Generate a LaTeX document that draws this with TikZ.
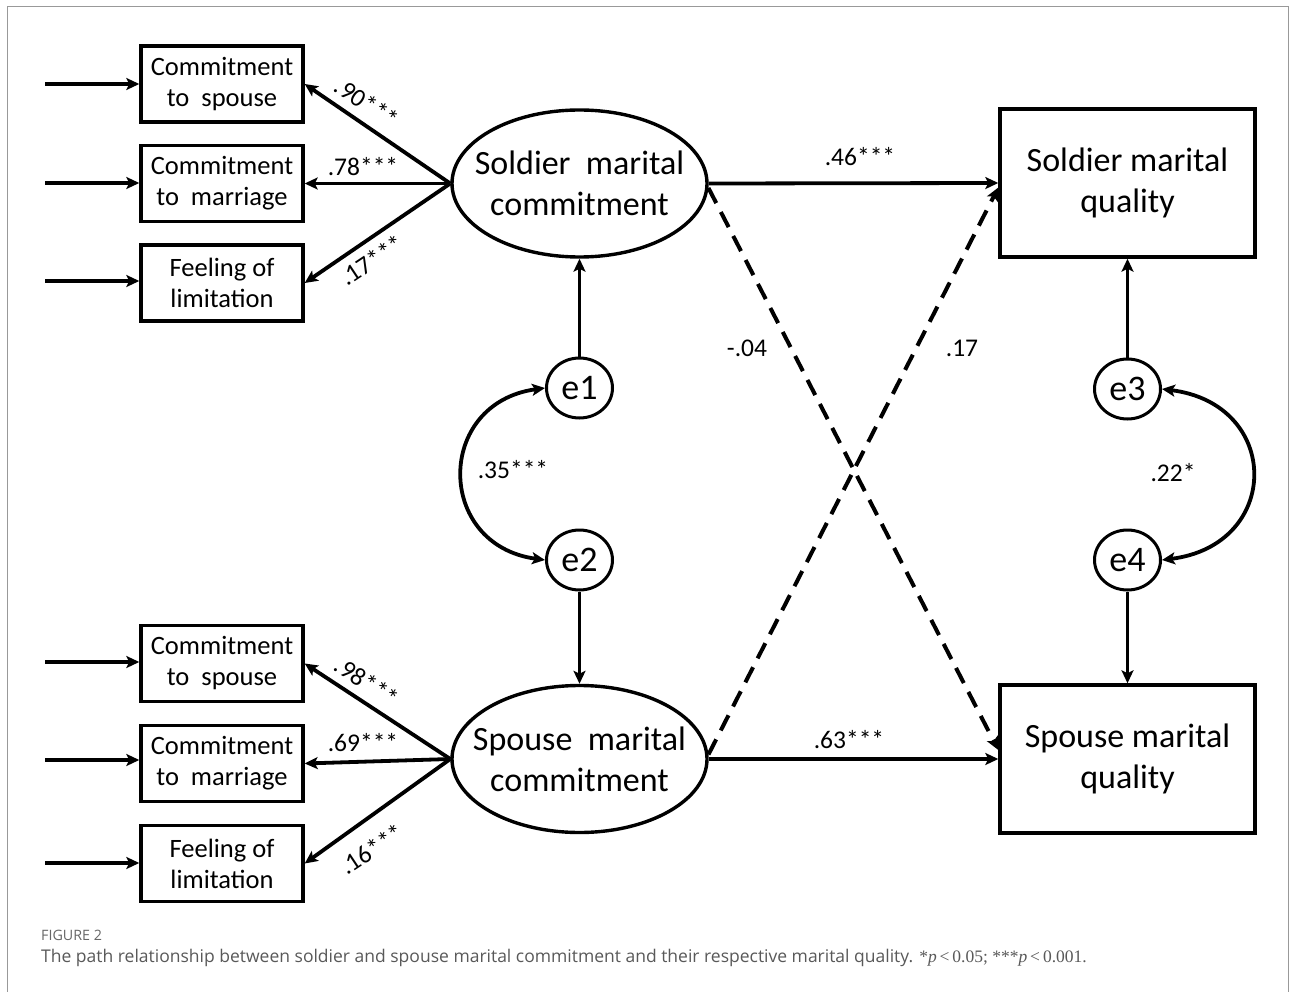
\documentclass[tikz,border=0pt]{standalone}
\usepackage{fontspec}
\setmainfont{Carlito}
\newfontfamily\capfont{Open Sans}
\newfontfamily\capserif{Liberation Serif}
\usetikzlibrary{arrows.meta,shapes.geometric,calc}
\begin{document}
\begin{tikzpicture}[x=1pt,y=-1pt,
  >={Stealth[length=13pt,width=12pt,inset=3pt]},
  ind/.style={draw, line width=3.4pt, minimum width=162pt, minimum height=76pt, inner sep=0pt, align=center, font=\fontsize{26.5}{31}\selectfont},
  lat/.style={ellipse, draw, line width=3.4pt, minimum width=255pt, minimum height=147pt, inner sep=0pt},
  lattext/.style={align=center, inner sep=0pt, font=\fontsize{34}{41}\selectfont},
  outc/.style={rectangle, draw, line width=3.4pt, minimum width=255pt, minimum height=148pt, inner sep=0pt, align=center, font=\fontsize{34}{41}\selectfont},
  err/.style={ellipse, draw, line width=3pt, minimum width=66pt, minimum height=60pt, inner sep=0pt, font=\fontsize{36}{40}\selectfont},
  pth/.style={line width=3.8pt, ->},
  dpth/.style={line width=4pt, ->, dash pattern=on 17pt off 10pt},
  coef/.style={font=\fontsize{25.5}{28}\selectfont, inner sep=0pt},
]
\useasboundingbox (0,0) rectangle (1293,992);
\fill[white] (0,0) rectangle (1293,992);
\draw[black!40, line width=1pt] (7,992) -- (7,7) -- (1288,7) -- (1288,992);

% indicator boxes
\node[ind] (b1) at (222,84) {Commitment\\to\ \ spouse};
\node[ind] (b2) at (222,183.5) {Commitment\\to\ \ marriage};
\node[ind] (b3) at (222,283) {Feeling of\\limitation};
\node[ind] (b4) at (222,663.5) {Commitment\\to\ \ spouse};
\node[ind] (b5) at (222,763.5) {Commitment\\to\ \ marriage};
\node[ind] (b6) at (222,863.5) {Feeling of\\limitation};

\foreach \i/\y in {1/84,2/183,3/281,4/662,5/760,6/863}{
  \coordinate (in\i) at (45,\y);
}
\foreach \i in {1,...,6}{
  \draw[pth] (in\i) -- (b\i.west |- in\i);
}

% latent variables
\node[lat, label={[lattext]center:Soldier\ \ marital\\commitment}] (sm) at (579.5,183.5) {};
\node[lat, label={[lattext]center:Spouse\ \ marital\\commitment}] (spc) at (579.5,759) {};

% outcomes
\node[outc] (smq) at (1127.5,183) {Soldier marital\\quality};
\node[outc] (spq) at (1127.5,759) {Spouse marital\\quality};

% errors
\node[err] (e1) at (579.5,388) {e1};
\node[err] (e2) at (579.5,560) {e2};
\node[err] (e3) at (1127.5,389) {e3};
\node[err] (e4) at (1127.5,560) {e4};

% loadings
\draw[pth] (sm.west) -- (b1.east);
\draw[pth] (sm.west) -- (b2.east);
\draw[pth] (sm.west) -- (b3.east);
\draw[pth] (spc.west) -- (b4.east);
\draw[pth] (spc.west) -- (b5.east);
\draw[pth] (spc.west) -- (b6.east);

\node[coef, rotate=-33.6] (l1) at (367,103) {.90***};
\node[coef] (l2) at (363,167) {.78***};
\node[coef, rotate=33.6] (l3) at (372,260) {.17***};
\node[coef, rotate=-33.6] (l4) at (367,682) {.98***};
\node[coef] (l5) at (363,743) {.69***};
\node[coef, rotate=33.6] (l6) at (372,849) {.16***};

% structural paths
\draw[pth] (sm.east) -- (smq.west);
\draw[pth] (spc.east) -- (spq.west);
\draw[dpth] (sm.-2) -- (spq.176);
\draw[dpth] (spc.2) -- (smq.182);

\node[coef] (c1) at (860,157) {.46***};
\node[coef] (c2) at (849,740) {.63***};
\node[coef] (c3) at (747,348) {-.04};
\node[coef] (c4) at (962,348) {.17};

% residual paths
\draw[pth] (e1) -- (sm.south);
\draw[pth] (e2) -- (spc.north);
\draw[pth] (e3) -- (smq.south);
\draw[pth] (e4) -- (spq.north);

% covariances
\draw[line width=3.8pt, <->] (e1.west) .. controls +(-110,15) and +(-110,-15) .. (e2.west);
\draw[line width=3.8pt, <->] (e3.east) .. controls +(120,15) and +(120,-15) .. (e4.east);
\node[coef] (c5) at (513,470) {.35***};
\node[coef] (c6) at (1173,473) {.22*};

% caption
\node[anchor=west, inner sep=0pt, text=black!60, font=\capfont\fontsize{14.3}{16}\selectfont] (fig) at (41,935) {FIGURE 2};
\node[anchor=west, inner sep=0pt, text=black!65, font=\capfont\fontsize{17.5}{20}\selectfont] (cap) at (41,958) {The path relationship between soldier and spouse marital commitment and their respective marital quality. {\capserif *\textit{p}\,<\,0.05; ***\textit{p}\,<\,0.001.}};
\end{tikzpicture}
\end{document}
